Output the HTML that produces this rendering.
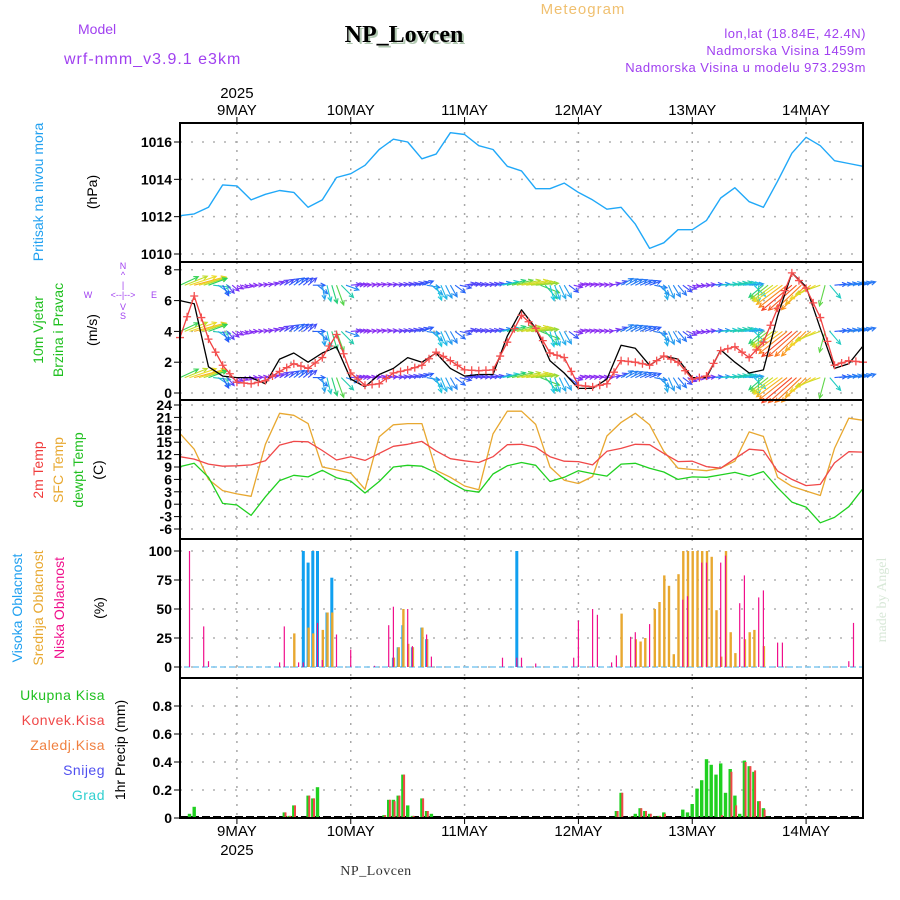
<!DOCTYPE html>
<html><head><meta charset="utf-8"><title>Meteogram NP_Lovcen</title>
<style>
html,body{margin:0;padding:0;background:#fff;}
svg{display:block;font-family:"Liberation Sans",sans-serif;}
</style></head>
<body>
<svg id="chart" width="900" height="900" viewBox="0 0 900 900" xmlns="http://www.w3.org/2000/svg">
<text x="78" y="34" font-size="14" fill="#a040f0">Model</text>
<text x="64" y="64" font-size="16" fill="#a040f0" letter-spacing="1">wrf-nmm_v3.9.1 e3km</text>
<text x="406" y="44" font-size="24" font-weight="bold" text-anchor="middle" fill="#b0c8b0" font-family="Liberation Serif, serif">NP_Lovcen</text>
<text x="404" y="42" font-size="24" font-weight="bold" text-anchor="middle" fill="#000" font-family="Liberation Serif, serif">NP_Lovcen</text>
<text x="583" y="14" font-size="15" text-anchor="middle" fill="#f0c070" letter-spacing="1">Meteogram</text>
<text x="866" y="38" font-size="13" text-anchor="end" fill="#a040f0" letter-spacing="0.5">lon,lat (18.84E, 42.4N)</text>
<text x="866" y="55" font-size="13" text-anchor="end" fill="#a040f0" letter-spacing="0.5">Nadmorska Visina 1459m</text>
<text x="866" y="72" font-size="13" text-anchor="end" fill="#a040f0" letter-spacing="0.5">Nadmorska Visina u modelu 973.293m</text>

<g id="plots"></g>

<text transform="translate(43,192) rotate(-90)" font-size="14" text-anchor="middle" fill="#20a0f0">Pritisak na nivou mora</text>
<text transform="translate(97,192) rotate(-90)" font-size="14" text-anchor="middle" fill="#000">(hPa)</text>
<text transform="translate(43,330) rotate(-90)" font-size="14" text-anchor="middle" fill="#20c020">10m Vjetar</text>
<text transform="translate(63,330) rotate(-90)" font-size="14" text-anchor="middle" fill="#20c020">Brzina i Pravac</text>
<text transform="translate(97,330) rotate(-90)" font-size="14" text-anchor="middle" fill="#000">(m/s)</text>
<g fill="#a040f0" font-size="9" text-anchor="middle">
<text x="123" y="269">N</text><text x="123" y="278">^</text><text x="123" y="288">|</text>
<text x="88" y="298">W</text><text x="123" y="298">&lt;--|--&gt;</text><text x="154" y="298">E</text>
<text x="123" y="310">V</text><text x="123" y="319">S</text>
</g>
<text transform="translate(43,470) rotate(-90)" font-size="14" text-anchor="middle" fill="#f03c3c">2m Temp</text>
<text transform="translate(63,470) rotate(-90)" font-size="14" text-anchor="middle" fill="#e8a830">SFC Temp</text>
<text transform="translate(83,470) rotate(-90)" font-size="14" text-anchor="middle" fill="#20c020">dewpt Temp</text>
<text transform="translate(103,470) rotate(-90)" font-size="14" text-anchor="middle" fill="#000">(C)</text>
<text transform="translate(22,608) rotate(-90)" font-size="14" text-anchor="middle" fill="#20a0f0">Visoka Oblacnost</text>
<text transform="translate(43,608) rotate(-90)" font-size="14" text-anchor="middle" fill="#e8a830">Srednja Oblacnost</text>
<text transform="translate(64,608) rotate(-90)" font-size="14" text-anchor="middle" fill="#f0108c">Niska Oblacnost</text>
<text transform="translate(104,608) rotate(-90)" font-size="14" text-anchor="middle" fill="#000">(%)</text>
<g font-size="14" text-anchor="end" letter-spacing="0.5">
<text x="105" y="700" fill="#20c020">Ukupna  Kisa</text>
<text x="105" y="725" fill="#f04848">Konvek.Kisa</text>
<text x="105" y="750" fill="#f08040">Zaledj.Kisa</text>
<text x="105" y="775" fill="#5050f0">Snijeg</text>
<text x="105" y="800" fill="#30d0d0">Grad</text>
</g>
<text transform="translate(125,750) rotate(-90)" font-size="14" text-anchor="middle" fill="#000">1hr Precip (mm)</text>
<text transform="translate(886,600) rotate(-90)" font-size="14" text-anchor="middle" fill="#d8e8d8" font-family="Liberation Serif, serif">made by Angel</text>
<text x="376" y="875" font-size="14" text-anchor="middle" fill="#333" font-family="Liberation Serif, serif" letter-spacing="0.5">NP_Lovcen</text>
</svg>
<script>
// ---------- data ----------
const dayLabels = ["9MAY","10MAY","11MAY","12MAY","13MAY","14MAY"];
const dayHours = [12,36,60,84,108,132];
const yearLabel = "2025";
const hours3 = [0,3,6,9,12,15,18,21,24,27,30,33,36,39,42,45,48,51,54,57,60,63,66,69,72,75,78,81,84,87,90,93,96,99,102,105,108,111,114,117,120,123,126,129,132,135,138,141,144];
const pressure = [1012.05,1012.15,1012.5,1013.7,1013.65,1012.9,1013.2,1013.4,1013.3,1012.5,1012.9,1014.1,1014.3,1014.75,1015.6,1016.15,1016.0,1015.1,1015.35,1016.5,1016.4,1015.8,1015.6,1014.7,1014.45,1013.5,1013.5,1013.8,1013.3,1012.9,1012.4,1012.5,1011.6,1010.3,1010.6,1011.3,1011.3,1011.8,1013.0,1013.55,1012.8,1012.5,1013.9,1015.4,1016.25,1015.8,1015.0,1014.85,1014.7];
const pressureTicks = [1010,1012,1014,1016];
const windSpeed = [3.6,6.3,3.5,1.8,0.7,0.6,0.8,1.4,1.9,1.6,2.3,3.8,1.3,0.5,0.6,1.3,1.5,1.8,2.65,2.1,1.5,1.45,1.5,3.3,5.05,4.2,2.6,2.3,0.5,0.4,0.6,2.1,2.0,1.8,2.4,2.0,0.9,1.1,2.75,3.0,2.3,3.3,5.5,7.8,6.8,4.9,1.8,2.1,2.0];
const windGust = [6.0,5.8,1.7,1.1,1.0,1.0,0.6,2.2,2.6,2.0,2.6,3.0,0.9,0.4,1.2,1.6,2.3,2.0,2.6,1.6,1.1,1.2,1.2,3.7,5.4,4.2,2.1,1.3,0.3,0.3,0.9,3.1,2.9,1.8,2.4,2.2,1.0,1.0,2.8,2.0,1.3,1.5,5.0,7.8,6.9,4.2,1.6,1.9,3.05];
const windDir = [25,15,20,-60,-30,0,10,30,35,40,-80,-70,5,5,10,5,10,20,-70,-60,10,5,10,15,10,5,-75,-60,10,10,5,30,25,20,-75,-50,-10,5,5,10,5,-140,-145,-140,-135,-160,5,10,15];
const windRows = [7,4,1];
const windTicks = [0,2,4,6,8];
const sfcTemp = [17.1,13.3,6.0,3.3,2.5,1.9,14.5,22.0,21.5,19.5,9.0,8.3,7.5,3.6,16.3,19.2,19.5,19.5,8.2,6.5,4.4,3.5,17,22.5,22.5,19.3,9,5.8,5.0,6.7,16.5,19.8,22,19.2,12.8,8.7,8.4,8.1,8.7,10.4,17.5,16.4,6.5,4.3,3.2,2.1,13.5,20.8,20.3];
const temp2m = [11.5,10.9,9.7,9.2,9.3,9.5,10.5,14.3,15.2,15.1,13,10.7,11.5,10.6,12.3,14,14.5,15.2,12.9,11,10.5,10.1,11.5,14.4,14.5,13.8,11.5,10.4,10.3,9.5,12.8,13.5,14.5,14.4,12.3,10.3,10.4,9.1,8.7,11.0,13.3,13.0,8,6,4.5,4.8,10,12.7,12.6];
const dewpt = [9.1,9.9,6.5,0.2,-0.2,-2.7,1.8,5.7,7,6.6,8.2,6.4,5.6,2.7,5.5,9,9.4,9.2,7.6,5.3,3.4,2.9,7.3,9.3,10.1,9.4,5.5,6.5,8.1,7.4,6.8,9.7,9.9,8.7,7.8,6,6.6,6.5,7.1,7.7,6.8,7.9,4,0.5,-0.7,-4.5,-3.2,-0.6,3.8];
const tempTicks = [-6,-3,0,3,6,9,12,15,18,21,24];
const lowCloudHours = [2,5,6,21,22,25,26,29,30,33,36,41,44,45,48,49,52,53,68,71,72,75,83,84,87,88,91,92,95,96,99,106,107,110,111,114,115,118,119,122,123,126,127,141,142];
const lowCloud = [100,35,5,4,35,4,4,38,6,28,15,1,36,52,50,18,28,9,8,8,8,3,8,40,50,45,4,10,26,30,37,58,61,90,90,90,96,55,79,60,66,21,21,5,38];
const midCloudHours = [24,27,28,30,31,32,45,46,47,48,49,51,52,93,96,97,98,100,101,102,103,104,105,106,107,108,109,110,111,112,113,114,115,116,117,119,120,121,123];
const midCloud = [29,34,29,32,47,47,8,17,50,20,17,34,24,46,24,22,25,50,56,79,70,11,80,100,100,100,100,100,100,95,49,9,100,30,12,24,30,32,18];
const highCloudHours = [26,27,28,29,31,32,45,46,47,49,51,52,71];
const highCloud = [100,90,100,100,47,77,8,17,36,17,34,24,100];
const cloudTicks = [0,25,50,75,100];
const precipHours = [2,3,22,23,24,27,28,29,43,44,45,46,47,48,49,51,52,53,92,93,95,96,97,98,99,100,101,102,106,107,108,109,110,111,112,113,114,115,116,117,118,119,120,121,122,123,124];
const totalRain = [0.03,0.08,0.04,0.015,0.09,0.16,0.14,0.22,0.02,0.13,0.13,0.16,0.31,0.09,0.015,0.14,0.05,0.03,0.05,0.18,0.01,0.03,0.07,0.05,0.03,0.01,0.015,0.04,0.06,0.04,0.1,0.21,0.27,0.42,0.38,0.31,0.39,0.18,0.35,0.16,0.03,0.41,0.37,0.33,0.12,0.07,0.01];
const convRain = [0,0,0.04,0.015,0.09,0.16,0.14,0,0.02,0.13,0.12,0.16,0.31,0,0.015,0.14,0.05,0,0.05,0.18,0.01,0,0.07,0.05,0.03,0.01,0.015,0.03,0,0,0,0,0,0,0,0,0.02,0,0.33,0.09,0,0.4,0.37,0.34,0.12,0.06,0];
const precipTicks = [0,0.2,0.4,0.6,0.8];

// ---------- geometry ----------
const NS = "http://www.w3.org/2000/svg";
const X0 = 180, X1 = 863;
const xs = h => X0 + (h / 144) * (X1 - X0);
const panels = {
  p: {top:123, bot:262, y:v => 254 - (v - 1010) * (112/6)},
  w: {top:262, bot:400, y:v => 393 - v * 15.4},
  t: {top:400, bot:539, y:v => 529 - (v + 6) * (124/30)},
  c: {top:539, bot:678, y:v => 667 - v * 1.16},
  r: {top:678, bot:818, y:v => 818 - v * 140}
};
const root = document.getElementById("plots");
function mk(tag, attrs, parent) {
  const e = document.createElementNS(NS, tag);
  for (const k in attrs) e.setAttribute(k, attrs[k]);
  (parent || root).appendChild(e);
  return e;
}
function grid(P, ticks, fmt, name) {
  const g = mk("g", {});
  
  
  ticks.forEach(t => {
    const y = P.y(t);
    mk("line", {x1:X0, x2:X1, y1:y, y2:y, stroke:"#b0b0b0", "stroke-width":1.5, "stroke-dasharray":"2,9"}, g);
    mk("line", {x1:X0 - 6, x2:X0, y1:y, y2:y, stroke:"#000", "stroke-width":1}, g);
    const tx = mk("text", {x:X0 - 8, y:y + 5, "font-size":14, "font-weight":"bold", "text-anchor":"end", fill:"#000"}, g);
    tx.textContent = fmt(t);
  });
  dayHours.forEach(h => {
    mk("line", {x1:xs(h), x2:xs(h), y1:P.top, y2:P.bot, stroke:"#a8a8a8", "stroke-width":1.5, "stroke-dasharray":"2,7"}, g);
  });
}
function line(P, hs, vals, color, name, w) {
  const d = hs.map((h, i) => (i ? "L" : "M") + xs(h).toFixed(1) + "," + P.y(vals[i]).toFixed(1)).join("");
  const e = mk("path", {d:d, fill:"none", stroke:color, "stroke-width":w || 1.3, "stroke-linejoin":"round"});
  
  
}
function interp(arr, h) {
  const i = Math.min(Math.floor(h / 3), arr.length - 2);
  const f = (h - hours3[i]) / 3;
  return arr[i] + (arr[i + 1] - arr[i]) * f;
}
function speedColor(s) {
  const stops = [[0,[150,40,240]],[1.2,[120,50,245]],[1.8,[40,90,250]],[2.6,[30,200,230]],[3.5,[40,210,90]],[4.5,[190,220,40]],[5.5,[240,220,40]],[6.8,[250,150,30]],[8,[245,50,40]]];
  for (let i = 0; i < stops.length - 1; i++) {
    if (s <= stops[i + 1][0]) {
      const f = Math.max(0, (s - stops[i][0]) / (stops[i + 1][0] - stops[i][0]));
      const a = stops[i][1], b = stops[i + 1][1];
      return "rgb(" + a.map((v, k) => Math.round(v + (b[k] - v) * f)).join(",") + ")";
    }
  }
  return "rgb(245,50,40)";
}

// ---------- pressure ----------
grid(panels.p, pressureTicks, v => v, "pressure-y");
line(panels.p, hours3, pressure, "#20a8f8", "pressure-line", 1.4);

// ---------- wind ----------
grid(panels.w, windTicks, v => v, "wind-y");
const arrowG = mk("g", {});


windRows.forEach(row => {
  for (let h = 0; h <= 144; h++) {
    const s = interp(windSpeed, h);
    const dir = interp(windDir, h) * Math.PI / 180;
    const len = 4 + s * 4.5;
    const x0 = xs(h), y0 = panels.w.y(row);
    const x1 = x0 + Math.cos(dir) * len, y1 = y0 - Math.sin(dir) * len;
    const c = speedColor(s);
    const a1 = dir + Math.PI - 0.45, a2 = dir + Math.PI + 0.45;
    const hl = 5;
    const p = mk("path", {d:"M" + x0.toFixed(1) + "," + y0.toFixed(1) + "L" + x1.toFixed(1) + "," + y1.toFixed(1) +
      "M" + (x1 + Math.cos(a1) * hl).toFixed(1) + "," + (y1 - Math.sin(a1) * hl).toFixed(1) + "L" + x1.toFixed(1) + "," + y1.toFixed(1) +
      "L" + (x1 + Math.cos(a2) * hl).toFixed(1) + "," + (y1 - Math.sin(a2) * hl).toFixed(1),
      fill:"none", stroke:c, "stroke-width":1.1}, arrowG);
    
    
  }
});
line(panels.w, hours3, windGust, "#000", "wind-gust-line", 1.3);
line(panels.w, hours3, windSpeed, "#f04040", "wind-speed-line", 1.3);
const markG = mk("g", {});


for (let h = 0; h <= 144; h += 1.5) {
  const x = xs(h), y = panels.w.y(interp(windSpeed, h));
  const m = mk("path", {d:"M" + (x - 4) + "," + y + "h8M" + x + "," + (y - 4) + "v8", stroke:"#f45050", "stroke-width":1.3}, markG);
  
  
}

// ---------- temperature ----------
grid(panels.t, tempTicks, v => v, "temp-y");
line(panels.t, hours3, sfcTemp, "#e8a830", "sfc-temp-line");
line(panels.t, hours3, temp2m, "#f04848", "temp-2m-line");
line(panels.t, hours3, dewpt, "#20d020", "dewpt-line");

// ---------- clouds ----------
grid(panels.c, cloudTicks, v => v, "cloud-y");
mk("line", {x1:X0 + 4, x2:X1, y1:panels.c.y(0), y2:panels.c.y(0), stroke:"#80c8f0", "stroke-width":1.5, "stroke-dasharray":"6,3"});
function bars(P, hs, vals, color, w, dx, name) {
  hs.forEach((h, i) => {
    if (vals[i] <= 0) return;
    const y = P.y(vals[i]);
    const r = mk("rect", {x:(xs(h) + dx - w / 2).toFixed(1), y:y.toFixed(1), width:w, height:(P.y(0) - y).toFixed(1), fill:color});
    
    
  });
}
bars(panels.c, highCloudHours, highCloud, "#10a0f0", 3, 0, "high-cloud-bar");
bars(panels.c, midCloudHours, midCloud, "#e8a830", 2.4, 0.5, "mid-cloud-bar");
bars(panels.c, lowCloudHours, lowCloud, "#f0108c", 1.2, 0, "low-cloud-bar");

// ---------- precipitation ----------
grid(panels.r, precipTicks, v => v === 0 ? "0" : v.toFixed(1), "precip-y");
mk("line", {x1:X0, x2:X1, y1:panels.r.y(0) - 1, y2:panels.r.y(0) - 1, stroke:"#000", "stroke-width":2, "stroke-dasharray":"8,3"});
bars(panels.r, precipHours, totalRain, "#20d020", 3.4, 0, "total-rain-bar");
bars(panels.r, precipHours, convRain, "#f04848", 2, 1.2, "convective-rain-bar");

// ---------- frames & time axis ----------
Object.keys(panels).forEach(k => {
  const P = panels[k];
  const f = mk("rect", {x:X0, y:P.top, width:X1 - X0, height:P.bot - P.top, fill:"none", stroke:"#000", "stroke-width":2});
  
  
});
dayLabels.forEach((lab, i) => {
  const x = xs(dayHours[i]);
  mk("line", {x1:x, x2:x, y1:117, y2:123, stroke:"#000"});
  mk("line", {x1:x, x2:x, y1:818, y2:824, stroke:"#000"});
  const t1 = mk("text", {x:x, y:115, "font-size":15, "text-anchor":"middle", fill:"#000"});
  t1.textContent = lab;
  
  
  const t2 = mk("text", {x:x, y:836, "font-size":15, "text-anchor":"middle", fill:"#000"});
  t2.textContent = lab;
  
  
});
const y1 = mk("text", {x:xs(dayHours[0]), y:98, "font-size":15, "text-anchor":"middle", fill:"#000"});
y1.textContent = yearLabel;


const y2 = mk("text", {x:xs(dayHours[0]), y:855, "font-size":15, "text-anchor":"middle", fill:"#000"});
y2.textContent = yearLabel;


</script>
</body></html>
